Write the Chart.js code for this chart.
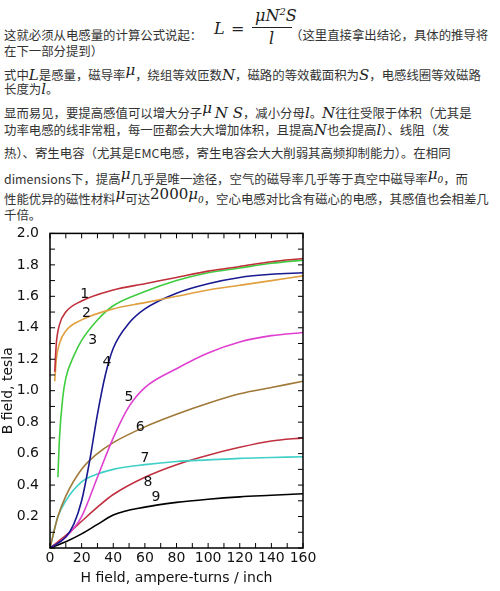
<!DOCTYPE html>
<html><head><meta charset="utf-8">
<script src="https://cdn.jsdelivr.net/npm/chart.js@4"></script>
<style>
body{margin:0;width:500px;height:591px;background:#fff;position:relative;overflow:hidden;font-family:"Noto Sans CJK SC","Noto Sans",sans-serif;color:#333;}
.l{position:absolute;left:4px;font-size:12.4px;white-space:nowrap;line-height:16px;}
.m{font-family:"DejaVu Serif","Liberation Serif",serif;font-style:italic;font-size:15px;color:#222;}
.s{vertical-align:5px;}
#c{position:absolute;left:0;top:222px;}
</style></head><body>
<div class="l" style="top:27px">这就必须从电感量的计算公式说起：</div>
<div style="position:absolute;left:214px;top:6px;font-family:'DejaVu Serif',serif;font-size:16px;color:#222">
<span style="position:absolute;top:13px;left:0;font-style:italic">L</span><span style="position:absolute;top:13px;left:17px">=</span>
<span style="position:absolute;top:0;left:41px;font-style:italic;white-space:nowrap">μN<sup style="font-size:10px">2</sup>S</span>
<span style="position:absolute;top:21px;left:38px;width:40px;border-top:1px solid #222"></span>
<span style="position:absolute;top:23px;left:55px;font-style:italic">l</span></div>
<div class="l" style="top:27px;left:290px">（这里直接拿出结论，具体的推导将</div>
<div class="l" style="top:43px">在下一部分提到）</div>
<div class="l" style="top:62px">式中<span class="m">L</span>是感量，磁导率<span class="m s">μ</span>，绕组等效匝数<span class="m">N</span>，磁路的等效截面积为<span class="m">S</span>，电感线圈等效磁路</div>
<div class="l" style="top:81px">长度为<span class="m">l</span>。</div>
<div class="l" style="top:100px">显而易见，要提高感值可以增大分子<span class="m s">μ</span> <span class="m">N S</span>，减小分母<span class="m">l</span>。<span class="m">N</span>往往受限于体积（尤其是</div>
<div class="l" style="top:122px">功率电感的线非常粗，每一匝都会大大增加体积，且提高<span class="m">N</span>也会提高<span class="m">l</span>）、线阻（发</div>
<div class="l" style="top:145px">热）、寄生电容（尤其是EMC电感，寄生电容会大大削弱其高频抑制能力）。在相同</div>
<div class="l" style="top:166px">dimensions下，提高<span class="m s">μ</span>几乎是唯一途径，空气的磁导率几乎等于真空中磁导率<span class="m s">μ<sub style="font-size:9px">0</sub></span>，而</div>
<div class="l" style="top:186px">性能优异的磁性材料<span class="m s">μ</span>可达<span class="m s" style="font-style:normal">2000</span><span class="m s">μ<sub style="font-size:9px">0</sub></span>，空心电感对比含有磁心的电感，其感值也会相差几</div>
<div class="l" style="top:207px">千倍。</div>
<canvas id="c" width="330" height="369"></canvas>
<script>
const names=["1","2","3","4","5","6","7","8","9"];
const colors=["#c0303a","#e0a040","#40cc40","#1a1a90","#e040d0","#a07838","#40d0c8","#c03040","#000000"];
const H1=[3,4,6,10,20,40,60,80,100,120,140,160], B1=[1.12,1.3,1.42,1.5,1.57,1.64,1.68,1.72,1.76,1.79,1.82,1.84];
const H2=[3,4,6,10,20,40,60,80,100,120,140,160], B2=[1.06,1.2,1.3,1.38,1.45,1.52,1.56,1.6,1.64,1.67,1.7,1.73];
const H3=[5,6,8,10,15,20,30,40,60,80,100,120,140,160], B3=[0.45,0.7,0.95,1.08,1.22,1.32,1.45,1.54,1.63,1.7,1.75,1.78,1.81,1.83];
const H4=[0,10,15,20,25,30,35,40,50,60,80,100,120,140,160], B4=[0,0.07,0.15,0.3,0.55,0.85,1.1,1.27,1.43,1.52,1.62,1.68,1.72,1.74,1.75];
const H5=[0,10,20,30,40,50,60,80,100,120,140,160], B5=[0,0.07,0.2,0.45,0.7,0.9,1.02,1.14,1.24,1.31,1.35,1.37];
const H6=[0,5,10,20,30,40,60,80,100,120,140,160], B6=[0,0.2,0.33,0.5,0.6,0.67,0.77,0.85,0.92,0.98,1.02,1.06];
const H7=[0,5,10,20,30,40,60,80,100,120,140,160], B7=[0,0.2,0.3,0.42,0.47,0.5,0.53,0.55,0.56,0.57,0.575,0.58];
const H8=[0,10,20,30,40,60,80,100,120,140,160], B8=[0,0.08,0.17,0.26,0.34,0.45,0.53,0.59,0.64,0.68,0.7];
const H9=[0,10,20,30,40,60,80,100,120,140,160], B9=[0,0.04,0.09,0.15,0.21,0.26,0.29,0.31,0.325,0.335,0.345];
const labelH=[22,23,27,36,50,57,60,62,67], labelB=[1.61,1.49,1.32,1.18,0.96,0.77,0.57,0.42,0.32];
const Hs=[H1,H2,H3,H4,H5,H6,H7,H8,H9], Bs=[B1,B2,B3,B4,B5,B6,B7,B8,B9];
const datasets=Hs.map((h,i)=>({label:names[i],data:h.map((x,j)=>({x,y:Bs[i][j]})),borderColor:colors[i],borderWidth:1.6,pointRadius:0,cubicInterpolationMode:'monotone',fill:false}));
const deco={id:'deco',afterDatasetsDraw(ch){const c=ch.ctx,x=ch.scales.x,y=ch.scales.y,a=ch.chartArea;
c.save();c.strokeStyle='#000';c.lineWidth=1.5;c.strokeRect(a.left,a.top,a.right-a.left,a.bottom-a.top);
c.lineWidth=1;c.beginPath();
for(let v=0;v<=160;v+=10){const p=x.getPixelForValue(v);c.moveTo(p,a.bottom);c.lineTo(p,a.bottom-5);c.moveTo(p,a.top);c.lineTo(p,a.top+5);}
for(let v=0;v<=2.001;v+=0.1){const p=y.getPixelForValue(v);c.moveTo(a.left,p);c.lineTo(a.left+5,p);c.moveTo(a.right,p);c.lineTo(a.right-5,p);}
c.stroke();
c.fillStyle='#111';c.font='14px "DejaVu Sans"';c.textAlign='center';c.textBaseline='middle';
names.forEach((n,i)=>c.fillText(n,x.getPixelForValue(labelH[i]),y.getPixelForValue(labelB[i])));
c.restore();}};
new Chart(document.getElementById('c'),{type:'line',data:{datasets},plugins:[deco],
options:{responsive:false,animation:false,layout:{padding:{top:10,right:27,left:0,bottom:0}},
plugins:{legend:{display:false},tooltip:{enabled:false}},
scales:{x:{type:'linear',min:0,max:160,grid:{display:false,drawTicks:false},border:{display:false},afterFit(s){s.height=43;},
 ticks:{stepSize:20,autoSkip:false,minRotation:0,maxRotation:0,color:'#111',font:{family:'DejaVu Sans',size:14},padding:2},
 title:{display:true,text:'H field, ampere-turns / inch',color:'#111',font:{family:'DejaVu Sans',size:14},padding:{top:2}}},
 y:{min:0,max:2,grid:{display:false},border:{display:false},afterFit(s){s.width=50;},
 ticks:{stepSize:0.2,color:'#111',font:{family:'DejaVu Sans',size:14},padding:3,callback:v=>v===0?'':v.toFixed(1)},
 title:{display:true,text:'B field, tesla',color:'#111',font:{family:'DejaVu Sans',size:14},padding:0}}}}});
</script></body></html>
